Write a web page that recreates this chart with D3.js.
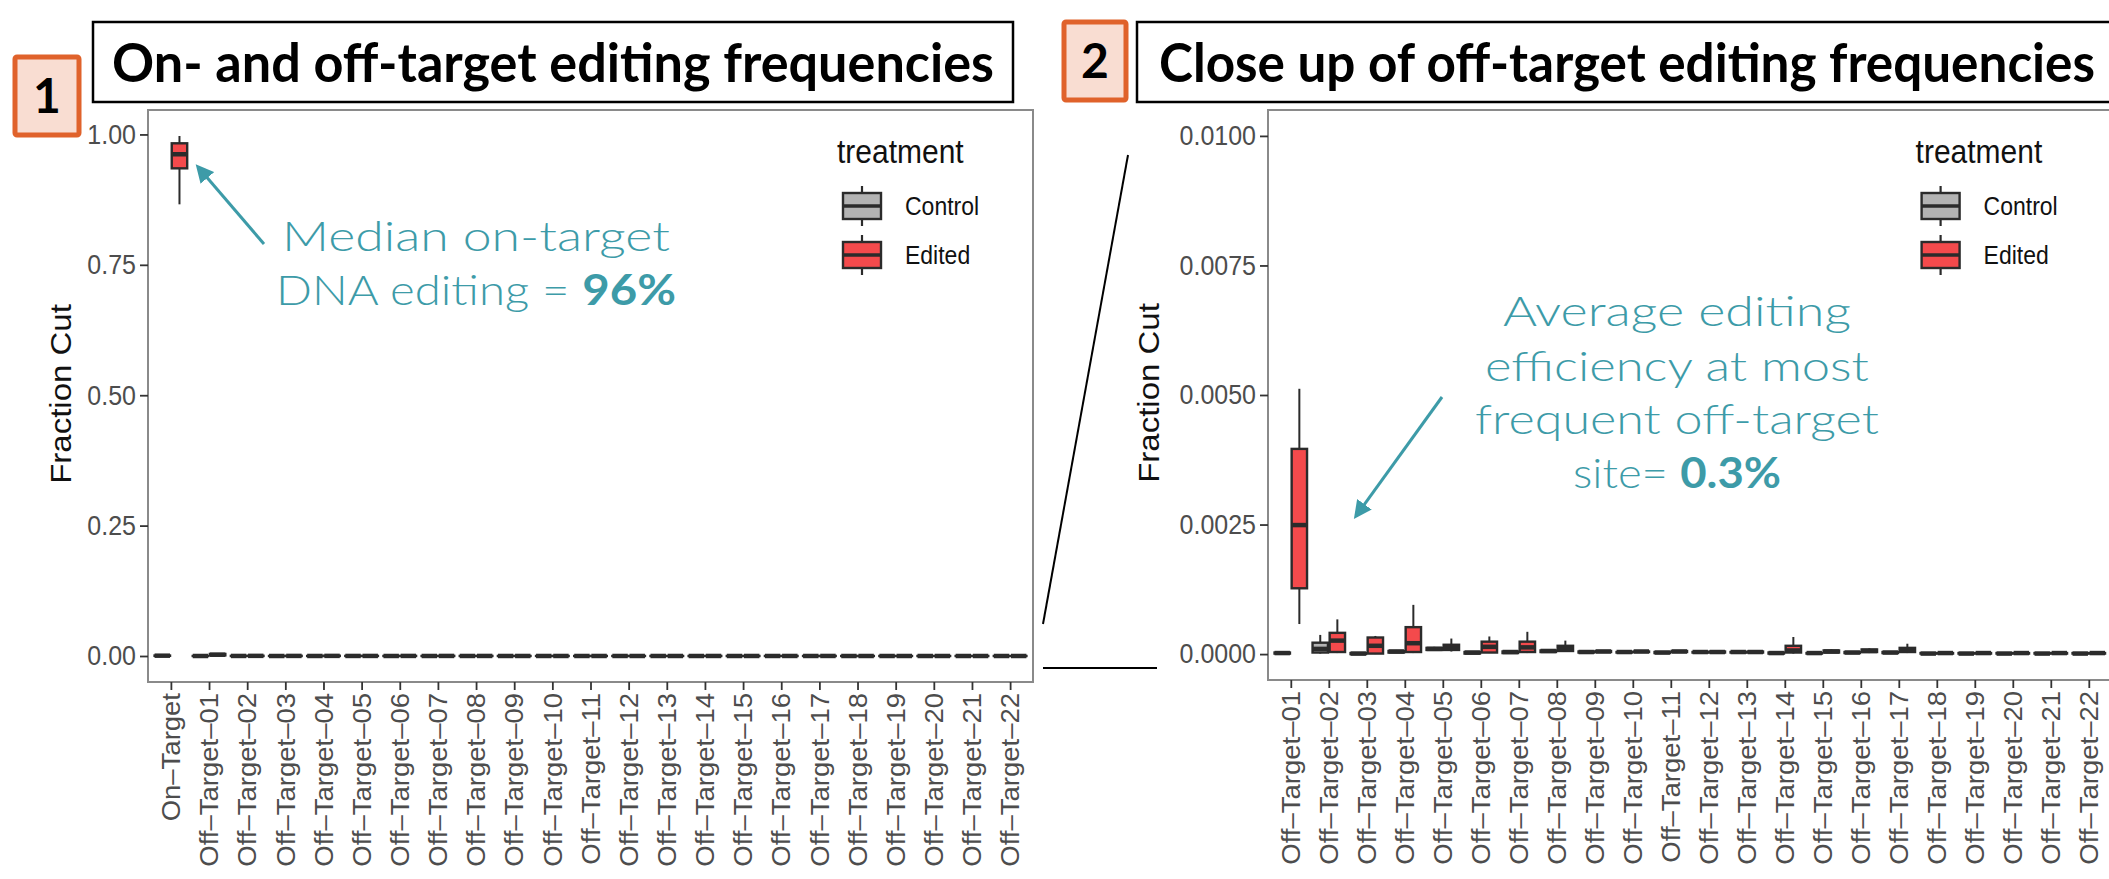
<!DOCTYPE html>
<html>
<head>
<meta charset="utf-8">
<script src="https://cdn.jsdelivr.net/npm/d3@7"></script>
<style>
  body { margin: 0; background: #fff; }
  svg { display: block; }
</style>
</head>
<body>
<svg id="chart" width="2109" height="879"></svg>
<script>
//#region Data
const onTarget = "On–Target";
const offTargets = [
    "Off–Target–01", "Off–Target–02", "Off–Target–03", "Off–Target–04", "Off–Target–05",
    "Off–Target–06", "Off–Target–07", "Off–Target–08", "Off–Target–09", "Off–Target–10",
    "Off–Target–11", "Off–Target–12", "Off–Target–13", "Off–Target–14", "Off–Target–15",
    "Off–Target–16", "Off–Target–17", "Off–Target–18", "Off–Target–19", "Off–Target–20",
    "Off–Target–21", "Off–Target–22"
];

// box stats per site: [lower whisker, q1, median, q3, upper whisker]
const onTargetControl = [0, 0.0003, 0.0006, 0.0009, 0.0012];
const onTargetEdited  = [0.866, 0.935, 0.962, 0.983, 0.997];

const controlOff = [
    [0, 0.00001, 0.00002, 0.00003, 0.00005],
    [0.00001, 0.00003, 0.0001, 0.00022, 0.00037],
    [0, 0, 0.00001, 0.00002, 0.00003],
    [0.00002, 0.00003, 0.00005, 0.00006, 0.00008],
    [0.00006, 0.00008, 0.0001, 0.00012, 0.00014],
    [0, 0.00001, 0.00003, 0.00004, 0.00005],
    [0.00001, 0.00002, 0.00004, 0.00005, 0.00006],
    [0.00003, 0.00004, 0.00006, 0.00007, 0.00009],
    [0.00002, 0.00003, 0.00004, 0.00005, 0.00006],
    [0.00002, 0.00003, 0.00004, 0.00004, 0.00005],
    [0.00001, 0.00002, 0.00003, 0.00004, 0.00005],
    [0.00002, 0.00003, 0.00004, 0.00004, 0.00005],
    [0.00002, 0.00003, 0.00004, 0.00004, 0.00005],
    [0, 0.00001, 0.00002, 0.00003, 0.00004],
    [0, 0.00001, 0.00002, 0.00002, 0.00003],
    [0.00001, 0.00002, 0.00003, 0.00004, 0.00005],
    [0.00001, 0.00002, 0.00003, 0.00004, 0.00005],
    [0, 0.00001, 0.00001, 0.00002, 0.00003],
    [0, 0.00001, 0.00001, 0.00002, 0.00003],
    [0, 0.00001, 0.00001, 0.00002, 0.00003],
    [0, 0.00001, 0.00001, 0.00002, 0.00003],
    [0, 0.00001, 0.00001, 0.00002, 0.00003]
];

const editedOff = [
    [0.00058, 0.00127, 0.00249, 0.00396, 0.00512],
    [0.00002, 0.00004, 0.00026, 0.00041, 0.00067],
    [0, 0.00001, 0.00016, 0.00032, 0.00035],
    [0.00002, 0.00004, 0.00021, 0.00052, 0.00095],
    [0.00005, 0.00008, 0.00012, 0.00018, 0.0003],
    [0.00002, 0.00003, 0.00014, 0.00024, 0.00034],
    [0.00002, 0.00004, 0.00013, 0.00024, 0.00043],
    [0.00004, 0.00006, 0.0001, 0.00016, 0.00026],
    [0.00003, 0.00004, 0.00005, 0.00006, 0.00007],
    [0.00003, 0.00004, 0.00005, 0.00005, 0.00006],
    [0.00003, 0.00004, 0.00005, 0.00006, 0.00007],
    [0.00002, 0.00003, 0.00004, 0.00005, 0.00006],
    [0.00002, 0.00003, 0.00004, 0.00005, 0.00006],
    [0.00001, 0.00003, 0.00007, 0.00016, 0.00033],
    [0.00002, 0.00003, 0.00005, 0.00007, 0.00009],
    [0.00002, 0.00004, 0.00006, 0.00009, 0.00011],
    [0.00002, 0.00004, 0.00008, 0.00012, 0.0002],
    [0, 0.00001, 0.00002, 0.00002, 0.00003],
    [0, 0.00001, 0.00002, 0.00002, 0.00003],
    [0, 0.00001, 0.00002, 0.00002, 0.00003],
    [0, 0.00001, 0.00002, 0.00002, 0.00003],
    [0, 0.00001, 0.00002, 0.00002, 0.00003]
];

const treatments = ["Control", "Edited"];
const treatmentColors = ["#b3b3b3", "#f44a4c"];

const leftTicks = [0, 0.25, 0.5, 0.75, 1];
const rightTicks = [0, 0.0025, 0.005, 0.0075, 0.01];
//#endregion

const svg = d3.select("#chart");
const teal = "#3d9ba8";
const plotFont = "'Liberation Sans', Arial, sans-serif";
const slideFont = "'Century Gothic', Lato, 'Open Sans', sans-serif";
const stretch = 1.1; // the pasted R plot is squeezed a bit taller than wide

svg.append("rect").attr("width", 2109).attr("height", 879).attr("fill", "#fff");

const color = d3.scaleOrdinal().domain(treatments).range(treatmentColors);

//#region Panels
function drawPanel(p) {
    const g = svg.append("g");

    const x = d3.scalePoint()
        .domain(p.cats)
        .range([p.left, p.right])
        .padding(0.6);

    const y = d3.scaleLinear()
        .domain(p.yDomain)
        .range([p.bottom, p.top]);

    const step = x.step();
    const bw = step * 0.405;
    const off = step * 0.225;

    // panel background + border
    g.append("rect")
        .attr("x", p.left).attr("y", p.top)
        .attr("width", p.right - p.left).attr("height", p.bottom - p.top)
        .attr("fill", "#fff")
        .attr("stroke", "#8a8a8a")
        .attr("stroke-width", 2);

    // flatten into one row per box
    const rows = [];
    p.cats.forEach((c, i) => {
        rows.push({ cat: c, grp: "Control", s: p.ctrl[i] });
        rows.push({ cat: c, grp: "Edited", s: p.edit[i] });
    });

    const box = g.append("g").selectAll("g")
        .data(rows)
        .join("g")
        .attr("transform", d => `translate(${x(d.cat) + (d.grp === "Control" ? -off : off)},0)`);

    box.append("line")
        .attr("y1", d => y(d.s[0]))
        .attr("y2", d => y(d.s[4]))
        .attr("stroke", "#2b2b2b")
        .attr("stroke-width", 2);

    box.append("rect")
        .attr("x", -bw / 2)
        .attr("width", bw)
        .attr("y", d => y(d.s[3]))
        .attr("height", d => y(d.s[1]) - y(d.s[3]))
        .attr("fill", d => color(d.grp))
        .attr("stroke", "#2b2b2b")
        .attr("stroke-width", 2.4);

    box.append("line")
        .attr("x1", -bw / 2).attr("x2", bw / 2)
        .attr("y1", d => y(d.s[2])).attr("y2", d => y(d.s[2]))
        .attr("stroke", "#2b2b2b")
        .attr("stroke-width", 4.5);

    // y axis
    const ya = g.append("g")
        .attr("transform", `translate(${p.left},0)`)
        .call(d3.axisLeft(y).tickValues(p.ticks).tickFormat(p.fmt).tickSize(8).tickPadding(4));
    ya.select(".domain").remove();
    ya.selectAll("line").attr("stroke", "#333").attr("stroke-width", 1.8);
    ya.selectAll("text")
        .attr("transform", `scale(1,${stretch})`)
        .attr("fill", "#4d4d4d")
        .style("font-family", plotFont)
        .style("font-size", "25px");

    // x axis
    const xa = g.append("g")
        .attr("transform", `translate(0,${p.bottom})`)
        .call(d3.axisBottom(x).tickSize(8).tickPadding(4));
    xa.select(".domain").remove();
    xa.selectAll("line").attr("stroke", "#333").attr("stroke-width", 1.8);
    xa.selectAll("text")
        .attr("transform", `scale(1,${stretch}) rotate(-90)`)
        .attr("x", -10)
        .attr("y", 0)
        .attr("dy", "0.35em")
        .attr("text-anchor", "end")
        .attr("fill", "#4d4d4d")
        .style("font-family", plotFont)
        .style("font-size", "25px");

    // y axis title
    g.append("text")
        .attr("transform", `translate(${p.titleX},${(p.top + p.bottom) / 2 - 2}) scale(1,${stretch}) rotate(-90)`)
        .attr("text-anchor", "middle")
        .attr("dy", "0.35em")
        .style("font-family", plotFont)
        .style("font-size", "30px")
        .attr("fill", "#111")
        .text("Fraction Cut");

    drawLegend(g, p.right);
}

function drawLegend(g, rx) {
    const lg = g.append("g");
    lg.append("text")
        .attr("transform", `translate(${rx - 196},163) scale(1,${stretch})`)
        .style("font-family", plotFont)
        .style("font-size", "30px")
        .attr("fill", "#111")
        .text("treatment");

    const keys = [{ name: "Control", y: 193 }, { name: "Edited", y: 242 }];
    const kx = rx - 190, kw = 38, kh = 26;
    keys.forEach(k => {
        lg.append("line")
            .attr("x1", kx + kw / 2).attr("x2", kx + kw / 2)
            .attr("y1", k.y - 7).attr("y2", k.y + kh + 7)
            .attr("stroke", "#2b2b2b").attr("stroke-width", 2.2);
        lg.append("rect")
            .attr("x", kx).attr("y", k.y)
            .attr("width", kw).attr("height", kh)
            .attr("fill", color(k.name))
            .attr("stroke", "#2b2b2b").attr("stroke-width", 2.4);
        lg.append("line")
            .attr("x1", kx).attr("x2", kx + kw)
            .attr("y1", k.y + kh / 2).attr("y2", k.y + kh / 2)
            .attr("stroke", "#2b2b2b").attr("stroke-width", 3.5);
        lg.append("text")
            .attr("transform", `translate(${rx - 128},${k.y + kh / 2}) scale(1,${stretch})`)
            .attr("dy", "0.35em")
            .style("font-family", plotFont)
            .style("font-size", "23px")
            .attr("fill", "#111")
            .text(k.name);
    });
}

const leftMax = d3.max([onTargetEdited[4]].concat(editedOff.map(d => d[4])));

drawPanel({
    cats: [onTarget].concat(offTargets),
    ctrl: [onTargetControl].concat(controlOff),
    edit: [onTargetEdited].concat(editedOff),
    left: 148, right: 1033, top: 110, bottom: 682,
    yDomain: [-0.05 * leftMax, leftMax * 1.05],
    ticks: leftTicks,
    fmt: d3.format(".2f"),
    titleX: 60
});

drawPanel({
    cats: offTargets,
    ctrl: controlOff,
    edit: editedOff,
    left: 1268, right: 1268 + 38 * 22.2, top: 110, bottom: 680,
    yDomain: [-0.0005, 0.0105],
    ticks: rightTicks,
    fmt: d3.format(".4f"),
    titleX: 1148
});
//#endregion

//#region Slide decorations
function numberBox(x, y, w, h, label) {
    svg.append("rect")
        .attr("x", x).attr("y", y).attr("width", w).attr("height", h)
        .attr("fill", "#f9ddd2")
        .attr("stroke", "#e0622b")
        .attr("stroke-width", 5)
        .attr("rx", 2);
    svg.append("text")
        .attr("x", x + w / 2).attr("y", y + h / 2)
        .attr("dy", "0.36em")
        .attr("text-anchor", "middle")
        .style("font-family", slideFont)
        .style("font-weight", "bold")
        .style("font-size", "48px")
        .attr("fill", "#000")
        .text(label);
}

function titleBox(x, y, w, h, tx, tlen, label) {
    svg.append("rect")
        .attr("x", x).attr("y", y).attr("width", w).attr("height", h)
        .attr("fill", "#fff")
        .attr("stroke", "#000")
        .attr("stroke-width", 2.5);
    svg.append("text")
        .attr("x", tx).attr("y", 82)
        .attr("textLength", tlen)
        .attr("lengthAdjust", "spacingAndGlyphs")
        .style("font-family", slideFont)
        .style("font-weight", "bold")
        .style("font-size", "54px")
        .attr("fill", "#000")
        .text(label);
}

titleBox(93, 22, 920, 80, 112, 882, "On- and off-target editing frequencies");
numberBox(15, 57, 64, 78, "1");
titleBox(1137, 22, 1000, 80, 1159, 936, "Close up of off-target editing frequencies");
numberBox(1064, 22, 62, 78, "2");

// zoom guide lines
svg.append("line")
    .attr("x1", 1043).attr("y1", 624).attr("x2", 1128).attr("y2", 155)
    .attr("stroke", "#000").attr("stroke-width", 2);
svg.append("line")
    .attr("x1", 1043).attr("y1", 668).attr("x2", 1157).attr("y2", 668)
    .attr("stroke", "#000").attr("stroke-width", 2);

// arrows
svg.append("defs").append("marker")
    .attr("id", "head")
    .attr("viewBox", "0 0 10 10")
    .attr("refX", 8).attr("refY", 5)
    .attr("markerWidth", 6).attr("markerHeight", 6)
    .attr("markerUnits", "strokeWidth")
    .attr("orient", "auto")
    .append("path")
    .attr("d", "M0,0 L10,5 L0,10 Z")
    .attr("fill", teal);

svg.append("line")
    .attr("x1", 264).attr("y1", 244).attr("x2", 198).attr("y2", 167)
    .attr("stroke", teal).attr("stroke-width", 3)
    .attr("marker-end", "url(#head)");
svg.append("line")
    .attr("x1", 1442).attr("y1", 397).attr("x2", 1356).attr("y2", 516)
    .attr("stroke", teal).attr("stroke-width", 3)
    .attr("marker-end", "url(#head)");

// annotation text
function note(cx, y, len, parts) {
    const t = svg.append("text")
        .attr("x", cx).attr("y", y)
        .attr("text-anchor", "middle")
        .attr("textLength", len)
        .attr("lengthAdjust", "spacingAndGlyphs")
        .style("font-family", slideFont)
        .style("font-size", "42px")
        .attr("fill", teal);
    parts.forEach(pt => {
        t.append("tspan")
            .style("font-weight", pt.bold ? "bold" : "300")
            .text(pt.text);
    });
}

note(476, 251, 388, [{ text: "Median on-target" }]);
note(476, 305, 400, [{ text: "DNA editing = " }, { text: "96%", bold: true }]);

note(1677, 326, 348, [{ text: "Average editing" }]);
note(1677, 381, 384, [{ text: "efficiency at most" }]);
note(1677, 434, 404, [{ text: "frequent off-target" }]);
note(1677, 488, 208, [{ text: "site= " }, { text: "0.3%", bold: true }]);
//#endregion
</script>
</body>
</html>
